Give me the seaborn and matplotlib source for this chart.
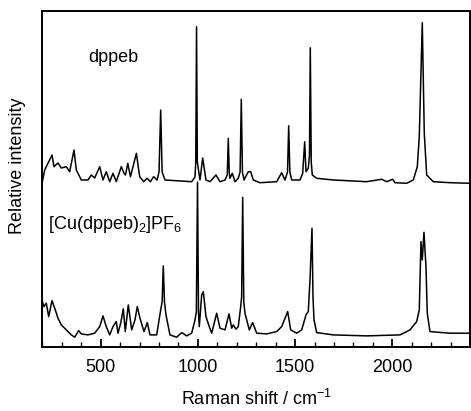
import numpy as np
import pandas as pd
import matplotlib
matplotlib.use('Agg')
import matplotlib.pyplot as plt
import seaborn as sns
from matplotlib.ticker import MultipleLocator

# Spectra (Raman shift in cm-1, intensity in arbitrary units)
dppeb_shift = [200, 211.8, 249.4, 259.7, 280.2, 297.2, 322.9, 340.4, 362.6, 374.4,
               400.1, 434.6, 451.5, 469, 494.8, 511.7, 528.7, 546.2, 563.2, 580.1,
               605.9, 619.8, 627.5, 639.3, 653.1, 683.5, 700.5, 721.1, 738.6, 755.5,
               772.5, 790, 800, 808.5, 816, 830.7, 968, 985, 989, 993,
               997, 1010.7, 1024.6, 1041.6, 1062.2, 1093, 1113.7, 1139.4, 1151, 1156.3,
               1161, 1165, 1176.9, 1190.8, 1207.7, 1217, 1223.2, 1229, 1237, 1259.2,
               1271.5, 1284.9, 1319.4, 1405.3, 1431, 1448, 1461, 1467, 1473, 1482.4,
               1525.1, 1539, 1549.3, 1556, 1567.8, 1574, 1578.1, 1583, 1588.4, 1611,
               1696.4, 1868.2, 1945.4, 1971.1, 2002, 2013.8, 2074, 2108, 2128.5, 2138.8,
               2154.2, 2164.5, 2176.9, 2210.8, 2296.7, 2400]
dppeb_int = [165.3, 177, 192, 180.3, 184, 179, 180.3, 175.3, 197, 177,
             167, 167, 172, 169, 180.3, 167, 175.3, 165.3, 173.7, 165.3,
             180.3, 173.7, 172, 183.7, 170.3, 193.7, 170.3, 165.3, 168.7, 165.3,
             170.3, 167, 175, 237, 175, 167, 165.3, 170, 185, 320.3,
             185, 167, 189, 167, 165.3, 172, 165.3, 167, 172, 208.7,
             175, 168.7, 173.7, 165.3, 168.7, 175, 247.7, 175, 167, 175.3,
             175.3, 167, 164.3, 165.3, 174.3, 167, 175, 221.3, 175, 167,
             167, 173.7, 205.3, 175.3, 178.7, 192, 299.3, 185, 172, 168.7,
             167, 165.3, 167.7, 165.3, 167.7, 164.3, 163.7, 167, 180.3, 210.3,
             324.3, 213.7, 172, 165.3, 164.3, 163.7]

cu_shift = [200, 208.2, 220.1, 232.4, 249.4, 266.4, 280.2, 297.2, 322.9, 348.7,
            366.2, 386.7, 400.1, 434.6, 469, 494.8, 511.7, 528.7, 546.2, 563.2,
            580.1, 588.9, 602.8, 616.2, 626.5, 641.9, 659.4, 676.3, 688.1, 702,
            722.6, 739.6, 753.5, 787.9, 808.5, 816, 821.9, 828, 835.8, 856.3,
            890.8, 916.5, 942.3, 968, 985, 992, 998, 1003, 1007.1, 1019.4,
            1027.7, 1041.6, 1058.5, 1070.9, 1096.6, 1113.6, 1139.4, 1160, 1173.8, 1182,
            1195.9, 1207.7, 1220.1, 1225, 1230.4, 1236, 1242.2, 1264.3, 1281.8, 1302.4,
            1353.8, 1405.3, 1431, 1461.8, 1477.3, 1508.1, 1533.9, 1556, 1567.8, 1576.6,
            1586.9, 1592, 1597.2, 1611, 1696.4, 1868.2, 2039.5, 2090.9, 2125.4, 2138.8,
            2147.5, 2154.2, 2162.9, 2173.2, 2179.9, 2193.8, 2296.7, 2400]
cu_int = [45.3, 40.3, 43.7, 30.3, 46.3, 37, 28.7, 22, 17, 12,
          9.7, 16.3, 13, 12, 13.7, 20.3, 31, 20.3, 12, 20.3,
          25.3, 13.7, 23.7, 38, 15.3, 42, 17, 27, 40.3, 28.7,
          15.3, 24.3, 12, 12, 37, 45, 81, 45, 32, 12,
          9.7, 14.3, 11, 13.7, 27, 35, 165, 35, 20.3, 52,
          55.3, 30.3, 20.3, 13.7, 33.7, 18.7, 17, 33, 18.7, 22,
          17.7, 20.3, 40.3, 50, 149.7, 45, 33.7, 17, 24.3, 13.7,
          13, 15.3, 20.3, 35.3, 17, 13.7, 17, 32, 35.3, 67,
          118.7, 50, 27, 14.3, 12, 11, 12, 17, 25.3, 37,
          105.3, 87, 114.7, 80.3, 33.7, 15.3, 13.7, 13.7]

df = pd.concat([
    pd.DataFrame({'shift': dppeb_shift, 'intensity': dppeb_int, 'sample': 'dppeb'}),
    pd.DataFrame({'shift': cu_shift, 'intensity': cu_int, 'sample': 'Cu'}),
])

sns.set_style('ticks', {'xtick.direction': 'in'})
plt.rcParams['font.family'] = ['Liberation Sans', 'DejaVu Sans']
plt.rcParams['mathtext.fontset'] = 'custom'
plt.rcParams['mathtext.rm'] = 'Liberation Sans'
plt.rcParams['mathtext.it'] = 'Liberation Sans'
plt.rcParams['text.color'] = 'black'
plt.rcParams['axes.labelcolor'] = 'black'
plt.rcParams['xtick.color'] = 'black'

fig = plt.figure(figsize=(4.71, 4.11), dpi=100)
ax = fig.add_axes([0.090, 0.156, 0.908, 0.817])

for name, grp in df.groupby('sample', sort=False):
    sns.lineplot(data=grp, x='shift', y='intensity', sort=False, estimator=None,
                 color='black', linewidth=1.1, ax=ax)

ax.set_xlim(200, 2400)
ax.set_ylim(0, 336)
ax.xaxis.set_major_locator(MultipleLocator(500))
ax.xaxis.set_minor_locator(MultipleLocator(100))
ax.set_yticks([])
ax.tick_params(axis='x', which='major', direction='in', length=6, width=1.3,
               labelsize=13, pad=9, color='black', bottom=True)
ax.tick_params(axis='x', which='minor', direction='in', length=3.5, width=1,
               color='black', bottom=True)
for s in ax.spines.values():
    s.set_linewidth(1.4)
    s.set_color('black')

ax.set_xlabel('Raman shift / cm$^{-1}$', fontsize=13)
ax.set_ylabel('Relative intensity', fontsize=13)
ax.xaxis.set_label_coords(0.5, -0.125)
ax.yaxis.set_label_coords(-0.038, 0.54)

ax.text(434.6, 284.7, 'dppeb', fontsize=13, ha='left', va='baseline')
ax.text(228.8, 117.7, '[Cu(dppeb)$_2$]PF$_6$', fontsize=13, ha='left', va='baseline')

fig.savefig('out.png', dpi=100)
